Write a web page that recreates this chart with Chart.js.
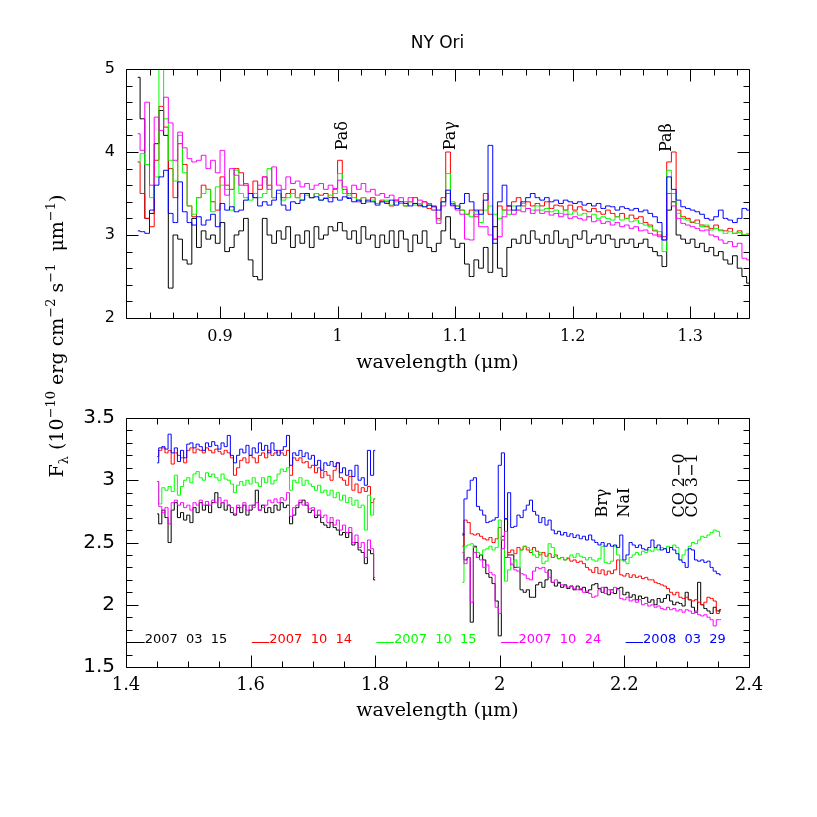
<!DOCTYPE html>
<html>
<head>
<meta charset="utf-8">
<script src="https://cdn.jsdelivr.net/npm/chart.js@4.4.1/dist/chart.umd.min.js"></script>
<style>
  html, body { margin: 0; padding: 0; background: #fff; }
  #wrap { position: relative; width: 817px; height: 817px; }
  #wrap canvas { position: absolute; left: 0; top: 0; }
</style>
</head>
<body>
<div id="wrap">
  <canvas id="top" width="817" height="817"></canvas>
  <canvas id="bottom" width="817" height="817"></canvas>
</div>
<script>
// observing dates and colours
const dates = ['2007  03  15', '2007  10  14', '2007  10  15', '2007  10  24', '2008  03  29'];
const colors = ['#000000', '#ff0000', '#00ff00', '#ff00ff', '#0000ff'];

// upper panel: 0.83 - 1.35 micron
const topWave = [
  0.830,0.834,0.838,0.842,0.846,0.850,0.854,0.858,0.862,0.866,
  0.870,0.874,0.878,0.882,0.886,0.890,0.894,0.898,0.902,0.906,
  0.910,0.914,0.918,0.922,0.926,0.930,0.934,0.938,0.942,0.946,
  0.950,0.954,0.958,0.962,0.966,0.970,0.974,0.978,0.982,0.986,
  0.990,0.994,0.998,1.002,1.006,1.010,1.014,1.018,1.022,1.026,
  1.030,1.034,1.038,1.042,1.046,1.050,1.054,1.058,1.062,1.066,
  1.070,1.074,1.078,1.082,1.086,1.090,1.094,1.098,1.102,1.106,
  1.110,1.114,1.118,1.122,1.126,1.130,1.134,1.138,1.142,1.146,
  1.150,1.154,1.158,1.162,1.166,1.170,1.174,1.178,1.182,1.186,
  1.190,1.194,1.198,1.202,1.206,1.210,1.214,1.218,1.222,1.226,
  1.230,1.234,1.238,1.242,1.246,1.250,1.254,1.258,1.262,1.266,
  1.270,1.274,1.278,1.282,1.286,1.290,1.294,1.298,1.302,1.306,
  1.310,1.314,1.318,1.322,1.326,1.330,1.334,1.338,1.342,1.346,
  1.350
];
const topBlack = [
  4.9,4.4,3.2,3.26,4.1,4.5,4.2,2.36,3.0,2.95,
  2.7,2.65,3.2,2.85,3.05,2.95,3.0,2.9,3.15,2.8,
  2.85,3.0,3.05,3.2,2.7,2.5,2.46,3.2,3.0,2.9,
  3.05,2.95,3.1,2.85,3.0,2.9,3.05,2.85,3.1,2.95,
  3.0,3.1,3.05,3.15,3.05,2.95,3.05,2.9,3.1,2.95,
  3.0,2.85,3.0,2.9,3.05,2.85,3.05,2.95,2.8,3.0,
  2.9,3.05,2.85,2.8,2.9,3.05,3.22,2.95,2.85,2.9,
  2.65,2.5,2.7,2.6,2.85,2.55,3.1,2.6,2.5,2.85,
  2.95,2.9,3.0,2.9,3.05,2.95,2.9,3.0,2.9,3.05,
  2.9,2.95,2.85,3.0,2.95,3.05,2.9,2.95,3.0,2.9,
  3.0,2.95,2.85,2.95,2.9,2.95,2.85,2.9,2.95,2.85,
  2.8,2.75,2.62,3.3,3.4,3.0,2.95,2.9,2.95,2.85,
  2.9,2.8,2.85,2.75,2.8,2.7,2.65,2.75,2.6,2.5,
  2.42
];
const topRed = [
  3.88,3.5,3.2,3.1,3.9,4.55,4.3,3.8,3.45,4.1,
  3.85,3.35,3.22,3.45,3.6,3.55,3.4,3.3,3.7,3.6,
  3.55,3.8,3.75,3.6,3.5,3.65,3.55,3.7,3.6,3.45,
  3.5,3.45,3.5,3.55,3.45,3.5,3.5,3.45,3.5,3.48,
  3.5,3.45,3.55,3.9,3.55,3.45,3.5,3.4,3.45,3.4,
  3.45,3.38,3.42,3.4,3.35,3.42,3.38,3.35,3.4,3.45,
  3.35,3.4,3.32,3.35,3.2,3.45,4.0,3.38,3.35,3.3,
  3.25,3.3,3.22,3.3,3.5,3.25,2.95,3.35,3.3,3.35,
  3.4,3.45,3.35,3.4,3.35,3.38,3.35,3.4,3.32,3.36,
  3.35,3.3,3.36,3.3,3.34,3.3,3.28,3.32,3.28,3.25,
  3.3,3.26,3.22,3.26,3.2,3.24,3.2,3.22,3.15,3.12,
  3.05,3.0,2.98,3.88,4.0,3.3,3.22,3.2,3.15,3.18,
  3.12,3.1,3.08,3.12,3.06,3.05,3.08,3.02,3.05,3.0,
  3.0
];
const topGreen = [
  3.88,3.98,3.85,3.45,3.7,5.2,4.4,3.9,3.65,4.2,
  3.75,3.35,3.25,3.45,3.5,3.55,3.28,3.58,3.6,3.55,
  3.3,3.78,3.5,3.45,3.42,3.5,3.45,3.5,3.8,3.45,
  3.5,3.42,3.45,3.5,3.45,3.42,3.48,3.45,3.5,3.42,
  3.45,3.48,3.5,3.74,3.5,3.48,3.45,3.42,3.45,3.4,
  3.42,3.38,3.4,3.42,3.36,3.4,3.38,3.35,3.4,3.36,
  3.38,3.34,3.36,3.3,3.18,3.4,3.74,3.4,3.35,3.3,
  3.25,3.22,3.28,3.15,3.3,3.35,3.25,3.2,3.3,3.25,
  3.35,3.3,3.38,3.32,3.3,3.35,3.3,3.32,3.28,3.3,
  3.26,3.3,3.25,3.28,3.24,3.26,3.22,3.25,3.2,3.22,
  3.2,3.18,3.22,3.18,3.2,3.16,3.18,3.14,3.12,3.1,
  3.06,3.04,2.8,3.78,3.5,3.26,3.2,3.18,3.16,3.14,
  3.1,3.12,3.06,3.08,3.05,3.02,3.04,3.02,3.03,3.0,
  3.02
];
const topMagenta = [
  4.22,4.02,4.6,3.6,4.42,4.26,4.66,4.35,3.9,4.24,
  4.05,3.92,3.88,3.9,3.96,3.8,3.9,3.75,4.02,3.48,
  3.8,3.72,3.6,3.62,3.5,3.45,3.6,3.7,3.55,3.82,
  3.6,3.55,3.7,3.62,3.65,3.58,3.62,3.55,3.6,3.62,
  3.55,3.6,3.56,3.66,3.58,3.5,3.6,3.55,3.62,3.52,
  3.55,3.48,3.5,3.45,3.48,3.42,3.45,3.4,3.45,3.38,
  3.42,3.4,3.38,3.3,3.14,3.35,3.5,3.35,3.3,3.25,
  2.95,2.94,3.25,3.1,3.1,3.0,2.95,2.98,3.22,3.3,
  3.25,3.3,3.28,3.32,3.26,3.3,3.26,3.28,3.24,3.26,
  3.22,3.25,3.2,3.22,3.2,3.18,3.22,3.16,3.18,3.14,
  3.16,3.12,3.15,3.1,3.12,3.08,3.1,3.05,3.06,3.02,
  3.0,2.98,2.94,3.5,3.35,3.2,3.14,3.12,3.1,3.08,
  3.05,3.06,3.0,2.98,2.94,2.9,2.92,2.86,2.9,2.72,
  2.7
];
const topBlue = [
  3.05,3.04,3.02,3.3,3.6,3.7,3.78,3.26,3.15,3.64,
  3.28,3.15,3.12,3.22,3.12,3.18,3.25,3.1,3.38,3.3,
  3.34,3.28,3.3,3.42,3.5,3.45,3.35,3.4,3.36,3.42,
  3.54,3.36,3.3,3.4,3.38,3.42,3.5,3.45,3.46,3.42,
  3.44,3.4,3.45,3.42,3.46,3.44,3.4,3.42,3.38,3.42,
  3.4,3.36,3.4,3.38,3.42,3.36,3.4,3.38,3.35,3.38,
  3.36,3.34,3.36,3.34,3.3,3.4,3.54,3.36,3.32,3.38,
  3.5,3.4,3.3,3.25,3.42,4.08,2.9,3.4,3.6,3.35,
  3.3,3.35,3.4,3.45,3.5,3.45,3.42,3.45,3.4,3.42,
  3.38,3.42,3.4,3.38,3.4,3.36,3.38,3.35,3.38,3.32,
  3.35,3.34,3.3,3.34,3.32,3.3,3.32,3.28,3.3,3.26,
  3.22,3.15,2.94,3.7,3.55,3.42,3.34,3.32,3.3,3.28,
  3.25,3.2,3.18,3.22,3.3,3.2,3.18,3.15,3.2,3.32,
  3.3
];

// lower panel, H band: 1.45 - 1.80 micron
const lowWaveH = [
  1.450,1.455,1.460,1.465,1.470,1.475,1.480,1.485,1.490,1.495,
  1.500,1.505,1.510,1.515,1.520,1.525,1.530,1.535,1.540,1.545,
  1.550,1.555,1.560,1.565,1.570,1.575,1.580,1.585,1.590,1.595,
  1.600,1.605,1.610,1.615,1.620,1.625,1.630,1.635,1.640,1.645,
  1.650,1.655,1.660,1.665,1.670,1.675,1.680,1.685,1.690,1.695,
  1.700,1.705,1.710,1.715,1.720,1.725,1.730,1.735,1.740,1.745,
  1.750,1.755,1.760,1.765,1.770,1.775,1.780,1.785,1.790,1.795,
  1.800
];
const lowBlackH = [
  2.73,2.65,2.76,2.7,2.5,2.76,2.82,2.7,2.74,2.68,
  2.72,2.66,2.78,2.74,2.82,2.76,2.8,2.74,2.82,2.9,
  2.78,2.82,2.76,2.8,2.74,2.72,2.78,2.74,2.8,2.72,
  2.76,2.8,2.92,2.76,2.8,2.74,2.78,2.74,2.8,2.76,
  2.82,2.78,2.8,2.65,2.72,2.78,2.82,2.84,2.8,2.74,
  2.76,2.7,2.72,2.66,2.64,2.62,2.66,2.62,2.6,2.56,
  2.58,2.54,2.58,2.48,2.5,2.44,2.42,2.33,2.44,2.41,
  2.2
];
const lowRedH = [
  3.19,3.24,3.26,3.22,3.24,3.13,3.22,3.2,3.18,3.14,
  3.24,3.26,3.22,3.25,3.24,3.22,3.26,3.24,3.22,3.25,
  3.23,3.21,3.24,3.22,3.18,3.04,3.1,3.16,3.18,3.14,
  3.2,3.18,3.14,3.2,3.22,3.18,3.24,3.2,3.22,3.24,
  3.22,3.2,3.24,3.04,3.18,3.16,3.18,3.14,3.15,3.1,
  3.12,3.06,3.1,3.02,3.07,3.04,3.0,3.08,3.14,3.02,
  3.0,2.96,3.03,2.92,2.97,2.9,2.94,2.91,2.95,2.82,
  2.85
];
const lowGreenH = [
  2.99,2.81,2.94,2.92,2.95,2.91,3.04,2.88,2.95,3.0,
  3.02,2.98,3.05,3.07,3.02,3.0,3.06,3.03,3.05,3.02,
  3.0,3.05,3.01,3.0,2.97,2.9,2.96,2.99,2.96,3.0,
  2.97,3.02,2.98,2.95,3.02,2.98,3.03,2.97,3.0,3.05,
  3.09,3.07,3.1,2.92,3.0,2.98,3.02,2.96,3.0,2.97,
  2.95,2.92,2.96,2.9,2.92,2.88,2.92,2.86,2.9,2.84,
  2.88,2.82,2.86,2.8,2.84,2.78,2.8,2.6,2.88,2.72,
  2.85
];
const lowMagentaH = [
  2.99,2.79,2.74,2.78,2.65,2.82,2.84,2.8,2.82,2.78,
  2.8,2.76,2.82,2.8,2.84,2.8,2.83,2.8,2.84,2.82,
  2.86,2.82,2.84,2.8,2.78,2.73,2.8,2.78,2.82,2.76,
  2.8,2.78,2.82,2.76,2.78,2.8,2.84,2.82,2.85,2.82,
  2.86,2.84,2.9,2.71,2.78,2.8,2.84,2.8,2.82,2.77,
  2.78,2.72,2.76,2.7,2.72,2.66,2.7,2.64,2.68,2.6,
  2.64,2.58,2.62,2.5,2.56,2.46,2.5,2.38,2.52,2.45,
  2.22
];
const lowBlueH = [
  3.14,3.26,3.27,3.25,3.37,3.22,3.26,3.15,3.24,3.18,
  3.29,3.3,3.26,3.29,3.27,3.24,3.3,3.27,3.31,3.28,
  3.25,3.3,3.27,3.36,3.2,3.14,3.2,3.25,3.22,3.28,
  3.2,3.26,3.22,3.3,3.24,3.28,3.22,3.3,3.24,3.2,
  3.24,3.27,3.36,3.12,3.22,3.2,3.24,3.19,3.22,3.17,
  3.2,3.12,3.16,3.08,3.14,3.12,3.15,3.11,3.14,3.06,
  3.1,3.04,3.08,3.03,3.12,3.0,3.02,2.96,3.24,3.04,
  3.24
];

// lower panel, K band: 1.94 - 2.355 micron
const lowWaveK = [
  1.940,1.945,1.950,1.955,1.960,1.965,1.970,1.975,1.980,1.985,
  1.990,1.995,2.000,2.005,2.010,2.015,2.020,2.025,2.030,2.035,
  2.040,2.045,2.050,2.055,2.060,2.065,2.070,2.075,2.080,2.085,
  2.090,2.095,2.100,2.105,2.110,2.115,2.120,2.125,2.130,2.135,
  2.140,2.145,2.150,2.155,2.160,2.165,2.170,2.175,2.180,2.185,
  2.190,2.195,2.200,2.205,2.210,2.215,2.220,2.225,2.230,2.235,
  2.240,2.245,2.250,2.255,2.260,2.265,2.270,2.275,2.280,2.285,
  2.290,2.295,2.300,2.305,2.310,2.315,2.320,2.325,2.330,2.335,
  2.340,2.345,2.350,2.355
];
const lowBlackK = [
  2.57,2.36,2.38,1.86,2.47,2.38,2.4,2.36,2.25,2.22,
  2.17,2.03,1.75,2.55,2.69,2.4,2.4,2.3,2.3,2.12,
  2.1,2.12,2.06,2.06,2.16,2.18,2.14,2.2,2.28,2.18,
  2.15,2.18,2.14,2.16,2.13,2.15,2.12,2.15,2.12,2.14,
  2.1,2.12,2.16,2.17,2.13,2.1,2.14,2.08,2.12,2.09,
  2.13,2.14,2.08,2.1,2.06,2.08,2.04,2.07,2.05,2.06,
  2.02,2.04,2.0,2.05,2.02,2.05,2.08,2.03,2.0,2.02,
  2.01,1.99,2.1,2.04,1.98,1.94,2.18,2.0,1.97,1.95,
  1.93,1.98,1.95,1.96
];
const lowRedK = [
  2.47,2.68,2.66,2.57,2.56,2.57,2.55,2.53,2.52,2.54,
  2.5,2.53,2.62,2.52,2.38,2.42,2.44,2.41,2.46,2.44,
  2.47,2.44,2.42,2.46,2.43,2.4,2.42,2.39,2.41,2.38,
  2.4,2.37,2.38,2.36,2.37,2.35,2.36,2.34,2.35,2.33,
  2.3,2.28,2.26,2.3,2.25,2.28,2.24,2.27,2.25,2.28,
  2.36,2.24,2.23,2.25,2.22,2.24,2.22,2.23,2.21,2.22,
  2.2,2.2,2.18,2.17,2.16,2.15,2.13,2.1,2.08,2.1,
  2.06,2.05,2.06,2.04,2.03,2.04,2.02,2.0,2.02,2.06,
  2.05,2.03,1.93,1.95
];
const lowGreenK = [
  2.18,2.47,2.48,2.49,2.46,2.42,2.4,2.44,2.45,2.47,
  2.44,2.46,2.68,2.52,2.19,2.28,2.33,2.36,2.3,2.44,
  2.47,2.46,2.44,2.4,2.38,2.42,2.33,2.35,2.49,2.46,
  2.39,2.37,2.38,2.36,2.38,2.4,2.38,2.41,2.39,2.38,
  2.36,2.38,2.36,2.35,2.37,2.47,2.34,2.33,2.35,2.47,
  2.4,2.36,2.35,2.33,2.38,2.4,2.42,2.4,2.43,2.42,
  2.44,2.43,2.45,2.44,2.46,2.45,2.47,2.46,2.48,2.46,
  2.36,2.4,2.44,2.47,2.5,2.49,2.52,2.55,2.54,2.56,
  2.58,2.6,2.59,2.55
];
const lowMagentaK = [
  2.42,2.33,2.38,2.02,2.42,2.38,2.36,2.3,2.32,2.26,
  2.24,1.98,1.93,2.45,2.59,2.38,2.32,2.28,2.27,2.25,
  2.24,2.21,2.2,2.27,2.3,2.29,2.3,2.26,2.22,2.18,
  2.2,2.17,2.16,2.15,2.14,2.15,2.13,2.12,2.13,2.1,
  2.11,2.09,2.06,2.07,2.12,2.14,2.09,2.12,2.1,2.14,
  2.12,2.05,2.04,2.06,2.03,2.04,2.02,2.04,2.0,2.01,
  1.99,2.0,1.98,1.99,1.97,1.96,1.98,1.96,1.97,1.95,
  1.96,1.94,1.96,1.95,1.93,1.95,1.92,1.91,1.92,1.9,
  1.88,1.83,1.88,1.88
];
const lowBlueK = [
  2.56,2.85,2.92,3.0,3.02,2.79,2.76,2.72,2.66,2.67,
  2.68,2.7,3.12,3.22,2.69,2.9,2.62,2.63,2.72,2.7,
  2.76,2.8,2.84,2.75,2.72,2.66,2.7,2.64,2.68,2.6,
  2.57,2.59,2.56,2.58,2.55,2.57,2.54,2.56,2.53,2.55,
  2.52,2.56,2.52,2.5,2.48,2.5,2.47,2.49,2.47,2.48,
  2.46,2.56,2.36,2.4,2.5,2.48,2.46,2.48,2.45,2.44,
  2.46,2.52,2.46,2.48,2.44,2.45,2.42,2.46,2.44,2.41,
  2.36,2.34,2.3,2.45,2.44,2.36,2.35,2.36,2.34,2.35,
  2.3,2.27,2.25,2.24
];

// line identifications
const topLineNames = ['Paδ', 'Paγ', 'Paβ'];
const topLineWave = [1.0047, 1.0966, 1.2804];
const topLineBase = [4.02, 4.02, 4.0];
const lowLineNames = ['Brγ', 'NaI', 'CO 2−0', 'CO 3−1'];
const lowLineWave = [2.1657, 2.201, 2.289, 2.310];
const lowLineBase = [2.70, 2.70, 2.70, 2.70];

// legend anchors in the lower panel
const legendWave = [1.402, 1.602, 1.802, 2.002, 2.202];
const legendLevel = 1.7;

const topSeries = [topBlack, topRed, topGreen, topMagenta, topBlue];
const lowSeriesH = [lowBlackH, lowRedH, lowGreenH, lowMagentaH, lowBlueH];
const lowSeriesK = [lowBlackK, lowRedK, lowGreenK, lowMagentaK, lowBlueK];

function pts(xs, ys) {
  return xs.map((x, i) => ({ x: x, y: ys[i] }));
}

function lineSet(i, data) {
  return {
    label: dates[i],
    data: data,
    borderColor: colors[i],
    borderWidth: 1,
    stepped: 'middle',
    pointRadius: 0,
    fill: false,
    order: 5 - i
  };
}

const topSets = topSeries.map((ys, i) => lineSet(i, pts(topWave, ys)));
const lowSets = lowSeriesH.map((ys, i) =>
  lineSet(i, pts(lowWaveH, ys).concat([{ x: 1.87, y: null }], pts(lowWaveK, lowSeriesK[i]))));

// box with inward ticks on all four sides
const frameTicks = {
  id: 'frameTicks',
  afterDatasetsDraw(chart, args, opts) {
    const { ctx, chartArea: a, scales } = chart;
    const L = Math.round(a.left) + 0.5, R = Math.round(a.right) + 0.5;
    const T = Math.round(a.top) + 0.5, B = Math.round(a.bottom) + 0.5;
    ctx.save();
    ctx.strokeStyle = '#000';
    ctx.lineWidth = 1;
    ctx.beginPath();
    ctx.rect(L, T, R - L, B - T);
    const marks = (scale, minor, major, cb) => {
      const n0 = Math.ceil(scale.min / minor - 1e-6);
      const n1 = Math.floor(scale.max / minor + 1e-6);
      for (let n = n0; n <= n1; n++) {
        const v = n * minor;
        const r = v / major;
        const big = Math.abs(r - Math.round(r)) < 1e-6;
        cb(Math.round(scale.getPixelForValue(v)) + 0.5, big ? 12 : 6);
      }
    };
    marks(scales.x, opts.xMinor, opts.xMajor, (p, len) => {
      ctx.moveTo(p, B); ctx.lineTo(p, B - len);
      ctx.moveTo(p, T); ctx.lineTo(p, T + len);
    });
    marks(scales.y, opts.yMinor, opts.yMajor, (p, len) => {
      ctx.moveTo(L, p); ctx.lineTo(L + len, p);
      ctx.moveTo(R, p); ctx.lineTo(R - len, p);
    });
    ctx.stroke();
    ctx.restore();
  }
};

function drawLineNames(chart, names, waves, bases) {
  const { ctx, scales: { x, y } } = chart;
  ctx.save();
  ctx.fillStyle = '#000';
  ctx.font = '16px "DejaVu Serif"';
  ctx.textAlign = 'left';
  ctx.textBaseline = 'middle';
  names.forEach((t, i) => {
    ctx.save();
    ctx.translate(x.getPixelForValue(waves[i]), y.getPixelForValue(bases[i]));
    ctx.rotate(-Math.PI / 2);
    ctx.fillText(t, 0, 0);
    ctx.restore();
  });
  ctx.restore();
}

const topNotes = {
  id: 'topNotes',
  afterDatasetsDraw(chart) {
    drawLineNames(chart, topLineNames, topLineWave, topLineBase);
  }
};

const lowNotes = {
  id: 'lowNotes',
  afterDatasetsDraw(chart) {
    drawLineNames(chart, lowLineNames, lowLineWave, lowLineBase);
    const { ctx, scales: { x, y } } = chart;
    // legend along y = 1.7
    ctx.save();
    ctx.font = '13px "DejaVu Sans"';
    ctx.textAlign = 'left';
    ctx.textBaseline = 'alphabetic';
    const py = Math.round(y.getPixelForValue(legendLevel)) + 0.5;
    legendWave.forEach((w, i) => {
      const x0 = x.getPixelForValue(w);
      const x1 = x.getPixelForValue(w + 0.028);
      ctx.strokeStyle = colors[i];
      ctx.fillStyle = colors[i];
      ctx.lineWidth = 1;
      ctx.beginPath();
      ctx.moveTo(x0, py); ctx.lineTo(x1, py);
      ctx.stroke();
      ctx.fillText(dates[i], x1, py);
    });
    ctx.restore();

    // shared y axis title
    const parts = [
      ['F', 0], ['λ', 1], [' (10', 0], ['−10', 2], [' erg cm', 0], ['−2', 2],
      [' s', 0], ['−1', 2], ['  μm', 0], ['−1', 2], [')', 0]
    ];
    const fonts = ['19px "DejaVu Serif"', '13px "DejaVu Serif"', '13px "DejaVu Serif"'];
    const shift = [0, 5, -8];
    ctx.save();
    ctx.fillStyle = '#000';
    ctx.textAlign = 'left';
    ctx.textBaseline = 'alphabetic';
    ctx.translate(63, 336);
    ctx.rotate(-Math.PI / 2);
    let total = 0;
    parts.forEach(p => { ctx.font = fonts[p[1]]; total += ctx.measureText(p[0]).width; });
    let cx = -total / 2;
    parts.forEach(p => {
      ctx.font = fonts[p[1]];
      ctx.fillText(p[0], cx, shift[p[1]]);
      cx += ctx.measureText(p[0]).width;
    });
    ctx.restore();
  }
};

const serif = 'DejaVu Serif';
const sans = 'DejaVu Sans';
const fmt = v => String(+Number(v).toFixed(2));

function xAxis(min, max, step, size, titlePad, labelPad) {
  return {
    type: 'linear',
    min: min,
    max: max,
    afterFit: s => { s.height = 60; },
    grid: { display: false, drawTicks: false },
    border: { display: false },
    ticks: {
      stepSize: step, includeBounds: false, autoSkip: false, maxRotation: 0,
      padding: labelPad, color: '#000', font: { family: serif, size: size }, callback: fmt
    },
    title: {
      display: true, text: 'wavelength (μm)', color: '#000',
      font: { family: serif, size: 19, lineHeight: 1.2 }, padding: { top: 0, bottom: titlePad }
    }
  };
}

function yAxis(min, max, step, size) {
  return {
    type: 'linear',
    min: min,
    max: max,
    afterFit: s => { s.width = 50; },
    grid: { display: false, drawTicks: false },
    border: { display: false },
    ticks: {
      stepSize: step, includeBounds: false, autoSkip: false,
      padding: 11, color: '#000', font: { family: sans, size: size }, callback: fmt
    }
  };
}

new Chart(document.getElementById('top'), {
  type: 'line',
  data: { datasets: topSets },
  options: {
    responsive: false,
    animation: false,
    devicePixelRatio: 1,
    events: [],
    layout: { padding: { left: 76, right: 68, top: 0, bottom: 439 } },
    plugins: {
      legend: { display: false },
      tooltip: { enabled: false },
      title: {
        display: true, text: 'NY Ori', color: '#000', fullSize: false,
        font: { family: sans, size: 17, weight: 'normal', lineHeight: 1.2 },
        padding: { top: 33, bottom: 15.6 }
      },
      frameTicks: { xMinor: 0.02, xMajor: 0.1, yMinor: 0.2, yMajor: 1 }
    },
    scales: {
      x: xAxis(0.82, 1.35, 0.1, 16, 4, 9),
      y: yAxis(2, 5, 1, 16)
    }
  },
  plugins: [frameTicks, topNotes]
});

new Chart(document.getElementById('bottom'), {
  type: 'line',
  data: { datasets: lowSets },
  options: {
    responsive: false,
    animation: false,
    devicePixelRatio: 1,
    events: [],
    layout: { padding: { left: 76, right: 68, top: 418, bottom: 90 } },
    plugins: {
      legend: { display: false },
      tooltip: { enabled: false },
      frameTicks: { xMinor: 0.05, xMajor: 0.2, yMinor: 0.1, yMajor: 0.5 }
    },
    scales: {
      x: xAxis(1.4, 2.4, 0.2, 18, 5, 8),
      y: yAxis(1.5, 3.5, 0.5, 20)
    }
  },
  plugins: [frameTicks, lowNotes]
});
</script>
</body>
</html>
